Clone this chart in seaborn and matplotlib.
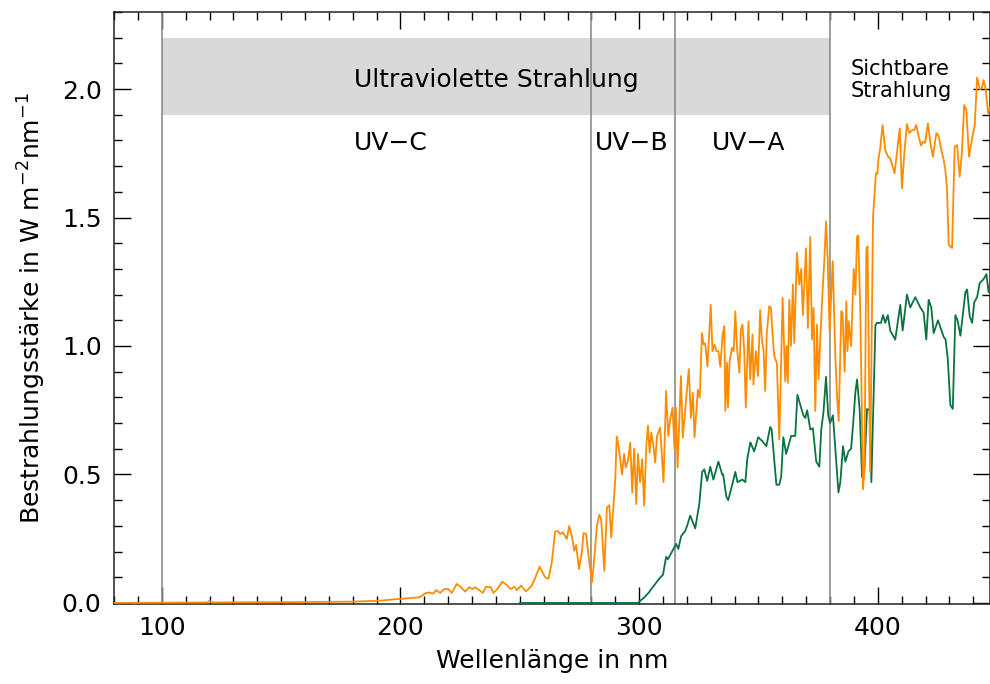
import numpy as np
import pandas as pd
import seaborn as sns
from matplotlib import pyplot as plt
from matplotlib.patches import Rectangle
from matplotlib.ticker import MultipleLocator

# Spektrum ausserhalb der Atmosphaere (orange)
orange_nm = [80, 100, 119, 120, 121, 150, 180, 191.5, 200, 208, 210.3, 212, 213.6, 215, 216.6,
             218.4, 220.1, 221.5, 223.6, 225.4, 227.1, 228.8, 230.2, 231.3, 232.7, 234.5, 235.8,
             237.9, 238.9, 240.4, 242.7, 244.5, 246.2, 247.7, 248.8, 250.5, 252.6, 255, 256.7,
             258.3, 260.6, 262, 263.4, 264.8, 265.9, 266.9, 268, 269.7, 270.7, 271.8, 272.8,
             273.6, 274.8, 276, 276.7, 277.8, 278.8, 280.2, 281, 282.3, 283.3, 284.1, 285.4,
             286.5, 287.5, 288.3, 290, 290.6, 291.4, 292.8, 293.7, 294.4, 295.3, 296.3, 297.1,
             297.9, 298.8, 299.5, 300.4, 301.3, 302.1, 303, 303.7, 304.4, 305.1, 306, 306.7,
             307.5, 308.8, 310.2, 311.3, 312.2, 313, 314, 314.8, 315.4, 316.1, 317.5, 318.3,
             319.3, 320.8, 321.7, 322.5, 323.2, 324.6, 325.4, 326.3, 327, 327.7, 328.6, 330,
             330.7, 331.6, 332.4, 333.2, 334, 335, 335.7, 336.1, 336.8, 337.2, 337.9, 338.9,
             339.6, 340.3, 341, 342, 342.6, 343.3, 344, 344.7, 345.8, 346.5, 347.5, 347.9,
             348.9, 349.8, 350.7, 351.4, 352.1, 352.8, 353.5, 354.5, 355.2, 355.9, 356.6, 357.7,
             358.7, 359.4, 360.1, 361.2, 361.8, 362.3, 362.9, 363.6, 364.4, 365, 366.1, 367.1,
             367.9, 368.6, 369.9, 370.7, 371.7, 372.4, 373.1, 373.8, 374.5, 375.2, 376, 376.9,
             377.6, 378.3, 379, 379.8, 381.1, 382.2, 383, 383.6, 384.7, 385.2, 386.1, 386.8,
             387.3, 387.8, 388.8, 389.9, 390.6, 391.3, 391.8, 392.7, 393.8, 394.4, 395.2, 395.7,
             396.8, 398, 399.2, 399.8, 400.3, 401, 402, 403.1, 404.3, 405.2, 406.2, 407, 408,
             409.2, 410.1, 411.1, 412.2, 413.2, 414.3, 415.2, 416.1, 417, 418.1, 418.9, 419.8,
             421, 422, 423.1, 424.5, 425.4, 426.6, 427.6, 428.3, 429, 429.7, 431.1, 432.2,
             433.2, 434.3, 435.2, 436.2, 437.1, 438.2, 439.5, 440.6, 441.6, 442.7, 443.6, 444.3,
             445.2, 446.2, 447]
orange_val = [0.0, 0.001, 0.002, 0.008, 0.002, 0.003, 0.005, 0.009, 0.016, 0.022, 0.037, 0.041,
              0.036, 0.05, 0.039, 0.054, 0.054, 0.039, 0.074, 0.061, 0.044, 0.061, 0.054, 0.061,
              0.052, 0.039, 0.063, 0.061, 0.039, 0.052, 0.083, 0.07, 0.054, 0.063, 0.05, 0.067,
              0.045, 0.067, 0.103, 0.141, 0.10, 0.094, 0.158, 0.278, 0.28, 0.268, 0.275, 0.249,
              0.30, 0.26, 0.203, 0.226, 0.132, 0.197, 0.272, 0.268, 0.184, 0.08, 0.15, 0.30,
              0.343, 0.326, 0.125, 0.372, 0.38, 0.255, 0.48, 0.648, 0.61, 0.50, 0.58, 0.527,
              0.553, 0.624, 0.43, 0.60, 0.385, 0.58, 0.47, 0.56, 0.378, 0.61, 0.69, 0.585, 0.663,
              0.61, 0.546, 0.65, 0.682, 0.47, 0.825, 0.65, 0.715, 0.76, 0.60, 0.76, 0.527, 0.883,
              0.643, 0.753, 0.91, 0.72, 0.818, 0.645, 0.83, 0.80, 1.05, 1.006, 1.01, 0.92, 1.16,
              0.98, 1.006, 0.98, 0.98, 0.92, 1.045, 1.077, 0.747, 0.935, 0.76, 0.94, 0.993, 0.98,
              1.135, 0.993, 0.896, 1.064, 1.083, 0.986, 0.76, 1.096, 0.87, 1.045, 0.85, 0.98,
              0.883, 1.14, 1.025, 0.986, 0.825, 1.05, 1.155, 1.15, 1.045, 0.96, 0.935, 0.637,
              0.896, 1.187, 0.863, 1.0, 0.857, 1.18, 1.0, 1.239, 1.012, 1.362, 1.239, 1.30, 1.12,
              1.38, 1.07, 1.424, 1.025, 1.148, 0.747, 1.083, 0.87, 1.05, 1.22, 1.336, 1.485,
              1.342, 1.057, 1.33, 0.96, 0.79, 0.708, 1.135, 1.13, 0.90, 1.174, 0.98, 1.096, 0.999,
              1.30, 1.20, 1.427, 1.43, 1.116, 0.443, 0.52, 1.375, 1.388, 0.51, 1.504, 1.672, 1.67,
              1.73, 1.77, 1.86, 1.763, 1.737, 1.73, 1.70, 1.672, 1.75, 1.847, 1.614, 1.75, 1.864,
              1.828, 1.84, 1.84, 1.86, 1.82, 1.78, 1.795, 1.79, 1.866, 1.79, 1.737, 1.828, 1.82,
              1.763, 1.724, 1.685, 1.608, 1.394, 1.381, 1.776, 1.782, 1.659, 1.75, 1.938, 1.918,
              1.737, 1.808, 1.86, 2.045, 2.00, 2.003, 2.035, 2.00, 1.906, 1.93]

# Spektrum am Erdboden (gruen)
green_nm = [250, 299.5, 300.4, 302, 304, 306, 308, 310, 311.3, 312, 313.8, 315.5, 316.4, 317.6,
            319.3, 320.1, 321.4, 323.5, 325.2, 326.4, 327.3, 328.5, 329.8, 331.1, 333.2, 334.8,
            335.2, 336.5, 337.3, 339, 340.3, 341.2, 343.2, 344.5, 345.3, 346.6, 348.2, 349.9,
            351.6, 353.3, 354.9, 355.5, 357.5, 358.7, 359.5, 360.4, 361.6, 363.7, 365.4, 366.3,
            368.8, 369.6, 370.4, 371.7, 372.8, 374.2, 375.5, 376.3, 377.2, 378.3, 379.2, 380,
            381.2, 383.5, 384.3, 385.4, 386.4, 387.7, 388.8, 389.6, 390.6, 391.3, 392.4, 393.4,
            394.3, 395.5, 396.6, 397.3, 399, 399.6, 401.3, 402.2, 403.1, 404.2, 405.2, 407.3,
            409.4, 410.4, 412.2, 413.6, 415.7, 417.8, 419.2, 420.3, 421.3, 422.4, 423.4, 425.2,
            427.6, 428.4, 429.3, 430.4, 431.4, 432.5, 433.4, 434.6, 436.7, 437.4, 438.5, 439.5,
            440.4, 441.6, 442.7, 444.3, 445.5, 446.4, 447]
green_val = [0.0, 0.0, 0.008, 0.02, 0.04, 0.065, 0.09, 0.11, 0.18, 0.17, 0.20, 0.23, 0.21, 0.26,
             0.28, 0.30, 0.34, 0.29, 0.385, 0.51, 0.52, 0.475, 0.53, 0.48, 0.55, 0.50, 0.50, 0.415,
             0.40, 0.46, 0.51, 0.47, 0.48, 0.47, 0.56, 0.625, 0.59, 0.645, 0.63, 0.61, 0.685, 0.675,
             0.46, 0.46, 0.49, 0.645, 0.58, 0.65, 0.65, 0.81, 0.73, 0.72, 0.75, 0.675, 0.68, 0.55,
             0.53, 0.675, 0.74, 0.88, 0.73, 0.70, 0.73, 0.43, 0.47, 0.61, 0.55, 0.59, 0.60, 0.69,
             0.82, 0.87, 0.75, 0.49, 0.51, 0.755, 0.75, 0.47, 1.08, 1.09, 1.09, 1.12, 1.09, 1.12,
             1.06, 1.025, 1.16, 1.06, 1.20, 1.15, 1.19, 1.15, 1.13, 1.025, 1.18, 1.15, 1.05, 1.10,
             1.035, 1.025, 0.95, 0.77, 0.755, 1.12, 1.10, 1.04, 1.21, 1.22, 1.115, 1.09, 1.17,
             1.19, 1.245, 1.26, 1.28, 1.21, 1.24]

# Bereichsgrenzen
uv_grenzen = [100, 280, 315, 380]
uv_namen = ["UV\u2212C", "UV\u2212B", "UV\u2212A"]
uv_text_x = [196, 297, 346]

sns.set_style("ticks")
plt.rcParams['font.family'] = ['DejaVu Sans']
plt.rcParams['text.color'] = 'black'
plt.rcParams['axes.labelcolor'] = 'black'
plt.rcParams['xtick.color'] = 'black'
plt.rcParams['ytick.color'] = 'black'

fig = plt.figure(figsize=(9.9, 6.84), dpi=100)
ax = fig.add_axes([0.1152, 0.117, 0.8848, 0.8655])

# grauer Balken fuer UV
ax.add_patch(Rectangle((uv_grenzen[0], 1.9), uv_grenzen[-1] - uv_grenzen[0], 0.3,
                       facecolor="#d9d9d9", edgecolor="none", zorder=0))
for g in uv_grenzen:
    ax.axvline(g, color="#8c8c8c", lw=1.2, zorder=1)

df_g = pd.DataFrame({"nm": green_nm, "E": green_val})
df_o = pd.DataFrame({"nm": orange_nm, "E": orange_val})
sns.lineplot(data=df_g, x="nm", y="E", color="#0b7340", lw=1.3, ax=ax, zorder=3)
sns.lineplot(data=df_o, x="nm", y="E", color="#ff8c00", lw=1.3, ax=ax, zorder=4)

ax.text((uv_grenzen[0] + uv_grenzen[-1]) / 2, 2.035, "Ultraviolette Strahlung",
        ha="center", va="center", fontsize=18)
for name, xt in zip(uv_namen, uv_text_x):
    ax.text(xt, 1.79, name, ha="center", va="center", fontsize=18)
ax.text(388.5, 2.035, "Sichtbare\nStrahlung", ha="left", va="center", fontsize=15,
        linespacing=1.15)

ax.set_xlim(80, 447)
ax.set_ylim(-0.004, 2.3)
ax.set_xticks([100, 200, 300, 400])
ax.set_yticks([0.0, 0.5, 1.0, 1.5, 2.0])
ax.set_yticklabels(["0.0", "0.5", "1.0", "1.5", "2.0"])
ax.xaxis.set_minor_locator(MultipleLocator(10))
ax.yaxis.set_minor_locator(MultipleLocator(0.1))
ax.tick_params(which="both", direction="in", top=True, right=True, labelsize=18)
ax.tick_params(which="major", length=12, width=1, pad=9)
ax.tick_params(which="minor", length=6, width=1)
for s in ax.spines.values():
    s.set_linewidth(1.1)
    s.set_color("#222222")

ax.set_xlabel("Wellenlänge in nm", fontsize=18, labelpad=6)
ax.set_ylabel("Bestrahlungsstärke in W m$^{-2}$nm$^{-1}$", fontsize=18, labelpad=10)

fig.savefig("out.png", dpi=100)
